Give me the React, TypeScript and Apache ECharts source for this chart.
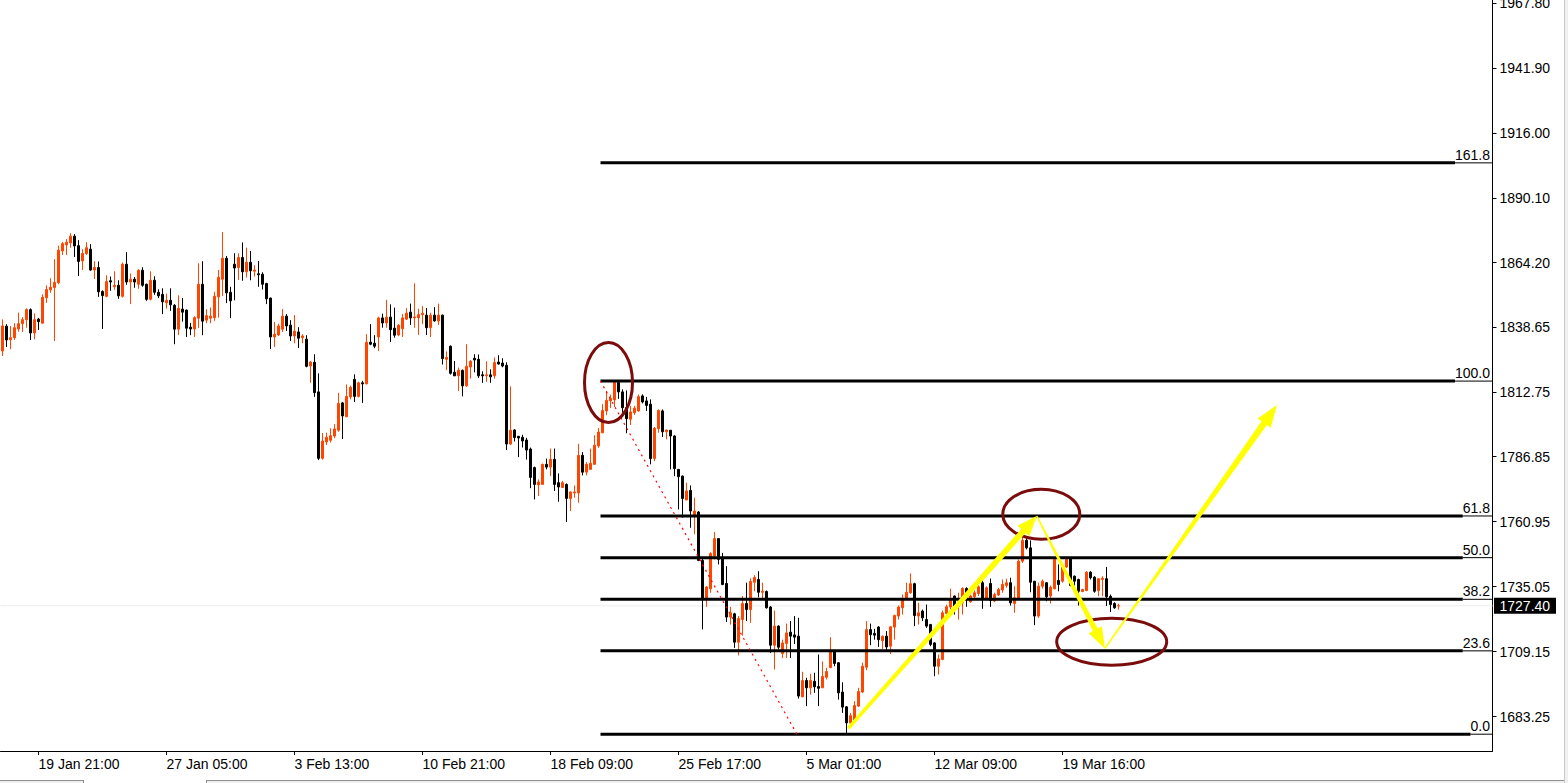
import React, { useEffect, useRef } from "react";
import * as echarts from "echarts";

// XAUUSD H4 candles: open / close / low / high per bar
const opens = [
  1829.0, 1838.9, 1833.5, 1834.3, 1837.8, 1839.9, 1841.5, 1845.5, 1836.2, 1841.7,
  1840.1, 1850.2, 1853.4, 1854.3, 1856.2, 1868.9, 1871.3, 1872.1, 1874.8, 1871.0,
  1864.9, 1867.9, 1869.6, 1861.3, 1862.3, 1852.7, 1850.8, 1857.0, 1854.6, 1855.2,
  1850.8, 1863.6, 1856.5, 1857.6, 1855.6, 1861.2, 1855.6, 1849.6, 1857.2, 1852.4,
  1851.6, 1848.2, 1849.2, 1847.2, 1837.7, 1845.7, 1845.3, 1838.5, 1837.8, 1842.1,
  1855.6, 1841.3, 1842.1, 1842.3, 1850.6, 1857.6, 1866.0, 1852.4, 1863.6, 1862.3,
  1866.3, 1860.6, 1864.4, 1860.8, 1859.8, 1859.6, 1855.9, 1850.1, 1834.6, 1835.4,
  1837.7, 1842.9, 1839.3, 1835.0, 1836.6, 1834.3, 1833.7, 1823.0, 1824.5, 1812.7,
  1786.2, 1792.7, 1793.4, 1795.1, 1797.4, 1808.3, 1802.8, 1810.7, 1817.7, 1810.9,
  1816.3, 1815.9, 1832.5, 1832.1, 1834.6, 1842.2, 1840.2, 1842.5, 1838.1, 1835.4,
  1837.9, 1841.7, 1844.5, 1842.2, 1842.2, 1843.5, 1843.3, 1838.3, 1843.3, 1841.0,
  1843.3, 1825.7, 1830.9, 1820.5, 1819.1, 1821.3, 1815.1, 1822.6, 1826.1, 1825.7,
  1819.5, 1819.1, 1819.5, 1819.1, 1824.6, 1824.2, 1823.3, 1791.9, 1797.5, 1795.0,
  1794.6, 1793.5, 1789.9, 1782.5, 1775.6, 1775.8, 1783.8, 1782.7, 1785.8, 1776.5,
  1774.6, 1775.8, 1770.2, 1772.4, 1772.4, 1787.4, 1780.7, 1781.8, 1783.8, 1791.1,
  1796.4, 1805.1, 1809.1, 1809.5, 1816.4, 1812.7, 1806.4, 1801.8, 1804.4, 1805.1,
  1811.1, 1809.1, 1807.8, 1786.1, 1798.0, 1805.1, 1796.8, 1797.4, 1795.1, 1781.8,
  1779.1, 1769.6, 1773.4, 1763.2, 1764.8, 1745.5, 1730.5, 1734.2, 1747.2, 1754.2,
  1746.5, 1736.3, 1722.9, 1724.2, 1712.9, 1721.9, 1728.3, 1725.9, 1736.8, 1737.9,
  1732.8, 1733.1, 1726.9, 1711.7, 1719.3, 1708.4, 1712.4, 1716.9, 1715.8, 1715.3,
  1691.1, 1697.6, 1694.7, 1697.3, 1695.2, 1694.7, 1698.9, 1702.7, 1709.6, 1704.7,
  1693.0, 1687.1, 1680.7, 1681.4, 1687.4, 1693.0, 1702.9, 1717.9, 1716.4, 1718.9,
  1713.5, 1715.3, 1711.3, 1718.9, 1723.3, 1726.6, 1729.9, 1732.6, 1736.2, 1723.3,
  1725.3, 1721.9, 1719.9, 1712.6, 1703.3, 1706.0, 1724.3, 1726.9, 1731.3, 1727.0,
  1728.6, 1734.3, 1729.0, 1731.0, 1732.3, 1736.6, 1729.9, 1736.3, 1729.3, 1731.7,
  1733.7, 1735.5, 1736.6, 1728.3, 1730.3, 1745.2, 1753.5, 1750.5, 1737.2, 1723.3,
  1735.2, 1736.6, 1731.3, 1734.2, 1737.5, 1737.2, 1742.9, 1746.2, 1739.2, 1737.9,
  1733.1, 1733.5, 1740.8, 1738.8, 1733.5, 1737.9, 1738.2, 1731.2, 1728.3, 1727.3,
];

const closes = [
  1839.0, 1833.4, 1834.3, 1838.3, 1839.9, 1841.5, 1845.5, 1836.2, 1841.5, 1840.7,
  1850.4, 1853.5, 1854.4, 1856.3, 1869.2, 1871.8, 1872.4, 1874.8, 1870.9, 1864.7,
  1867.9, 1870.2, 1861.3, 1862.3, 1852.6, 1851.1, 1856.7, 1856.5, 1855.2, 1851.0,
  1863.6, 1856.5, 1857.6, 1856.5, 1861.2, 1855.2, 1849.6, 1857.2, 1852.4, 1851.0,
  1848.6, 1849.2, 1847.4, 1837.7, 1846.0, 1844.5, 1838.1, 1837.8, 1842.3, 1855.6,
  1840.9, 1843.1, 1842.9, 1850.8, 1858.4, 1866.0, 1852.2, 1849.0, 1862.1, 1866.3,
  1860.6, 1864.4, 1861.0, 1861.3, 1859.4, 1855.6, 1849.8, 1834.6, 1835.7, 1839.0,
  1842.9, 1839.0, 1835.0, 1836.9, 1834.1, 1835.0, 1822.9, 1824.6, 1812.4, 1786.2,
  1793.1, 1794.6, 1795.2, 1797.9, 1808.1, 1803.1, 1810.9, 1814.5, 1810.9, 1816.3,
  1815.9, 1832.5, 1831.7, 1830.9, 1842.2, 1840.2, 1842.5, 1837.5, 1835.3, 1839.3,
  1842.2, 1844.1, 1842.2, 1842.6, 1843.5, 1844.1, 1838.3, 1843.3, 1841.0, 1843.3,
  1826.0, 1826.4, 1820.1, 1819.1, 1821.3, 1815.1, 1822.9, 1824.9, 1825.4, 1819.1,
  1819.1, 1819.5, 1818.7, 1824.4, 1823.8, 1823.0, 1791.9, 1797.4, 1794.5, 1794.3,
  1793.1, 1789.5, 1778.6, 1775.8, 1776.8, 1783.8, 1782.7, 1785.8, 1775.8, 1774.8,
  1776.5, 1770.2, 1772.8, 1772.8, 1787.4, 1780.7, 1783.8, 1784.2, 1791.4, 1796.7,
  1805.3, 1809.3, 1810.1, 1816.4, 1812.7, 1806.4, 1802.0, 1804.7, 1806.2, 1810.8,
  1808.7, 1807.3, 1786.1, 1798.2, 1805.3, 1796.8, 1797.5, 1795.1, 1782.1, 1778.9,
  1770.2, 1773.2, 1765.2, 1765.2, 1745.5, 1730.2, 1734.9, 1748.2, 1754.2, 1745.9,
  1735.9, 1722.9, 1724.6, 1712.9, 1722.3, 1728.3, 1725.9, 1737.1, 1738.7, 1732.8,
  1733.2, 1726.6, 1711.7, 1719.3, 1710.9, 1712.6, 1716.6, 1715.3, 1714.9, 1691.4,
  1697.6, 1694.7, 1697.6, 1695.1, 1694.5, 1699.2, 1701.2, 1709.6, 1704.4, 1692.7,
  1687.0, 1680.7, 1683.6, 1687.6, 1693.2, 1703.3, 1717.9, 1715.9, 1715.7, 1713.9,
  1715.3, 1711.0, 1719.0, 1723.5, 1726.9, 1730.2, 1732.8, 1736.2, 1723.5, 1724.6,
  1722.6, 1719.3, 1712.0, 1703.3, 1706.2, 1724.6, 1727.0, 1729.9, 1727.3, 1729.0,
  1734.3, 1730.3, 1731.3, 1732.6, 1735.0, 1729.9, 1734.6, 1729.5, 1731.9, 1733.9,
  1735.9, 1736.6, 1728.6, 1730.6, 1745.2, 1753.5, 1750.5, 1736.8, 1723.3, 1735.2,
  1737.2, 1731.0, 1734.8, 1745.9, 1735.9, 1742.9, 1745.9, 1735.5, 1737.2, 1733.2,
  1733.9, 1740.8, 1738.6, 1733.2, 1738.2, 1738.4, 1731.0, 1727.9, 1726.6, 1727.4,
];

const lows = [
  1827.0, 1830.6, 1829.7, 1833.4, 1836.7, 1836.6, 1838.3, 1833.4, 1833.7, 1837.4,
  1839.9, 1848.2, 1852.2, 1833.0, 1855.6, 1867.3, 1867.3, 1870.2, 1866.5, 1858.9,
  1861.3, 1867.3, 1861.0, 1857.7, 1850.6, 1837.8, 1850.4, 1853.0, 1853.4, 1849.8,
  1850.3, 1855.4, 1847.7, 1854.2, 1853.8, 1854.6, 1849.0, 1849.2, 1851.4, 1850.1,
  1843.7, 1845.9, 1845.0, 1831.7, 1835.4, 1840.7, 1834.6, 1835.3, 1834.6, 1838.2,
  1835.3, 1840.1, 1840.1, 1841.0, 1842.3, 1851.0, 1848.1, 1842.1, 1849.2, 1857.4,
  1857.0, 1858.3, 1857.2, 1858.7, 1854.6, 1853.5, 1847.7, 1829.8, 1830.6, 1835.0,
  1836.6, 1837.0, 1833.0, 1832.1, 1830.2, 1832.1, 1822.5, 1816.3, 1810.7, 1785.5,
  1785.7, 1791.5, 1792.5, 1794.2, 1796.8, 1793.9, 1802.6, 1809.7, 1808.7, 1810.5,
  1808.3, 1815.7, 1831.3, 1830.1, 1829.0, 1838.3, 1838.3, 1832.6, 1834.3, 1834.9,
  1834.6, 1841.4, 1839.4, 1838.3, 1835.4, 1839.7, 1835.4, 1834.6, 1840.7, 1839.4,
  1823.6, 1821.4, 1819.6, 1819.0, 1813.1, 1810.9, 1814.7, 1818.0, 1820.5, 1818.3,
  1816.3, 1816.7, 1816.3, 1818.0, 1823.6, 1822.5, 1789.5, 1791.5, 1792.9, 1786.7,
  1790.5, 1785.7, 1774.3, 1769.8, 1771.2, 1775.7, 1781.8, 1779.1, 1773.2, 1768.9,
  1774.5, 1760.8, 1765.2, 1770.5, 1768.5, 1779.4, 1779.4, 1781.7, 1783.8, 1790.4,
  1796.2, 1803.4, 1806.3, 1806.7, 1809.9, 1804.4, 1796.2, 1799.5, 1803.5, 1804.8,
  1808.1, 1805.1, 1783.8, 1785.1, 1796.4, 1794.7, 1793.8, 1781.8, 1779.1, 1765.8,
  1762.5, 1769.5, 1758.5, 1755.9, 1745.2, 1718.0, 1727.0, 1732.6, 1745.9, 1743.9,
  1735.6, 1720.9, 1719.9, 1710.6, 1707.6, 1715.5, 1721.3, 1720.6, 1733.2, 1730.8,
  1730.3, 1726.3, 1708.6, 1702.0, 1710.0, 1706.6, 1706.6, 1706.6, 1712.2, 1690.4,
  1691.0, 1687.4, 1692.0, 1692.7, 1687.4, 1694.7, 1698.0, 1702.7, 1703.3, 1690.0,
  1684.7, 1676.7, 1680.4, 1680.7, 1687.1, 1692.7, 1701.7, 1711.7, 1713.9, 1711.0,
  1710.2, 1709.7, 1708.2, 1713.9, 1721.9, 1723.9, 1729.7, 1732.2, 1719.3, 1719.9,
  1721.3, 1718.6, 1711.3, 1699.3, 1700.0, 1705.7, 1723.9, 1725.9, 1723.9, 1721.9,
  1723.9, 1727.0, 1728.6, 1729.9, 1731.3, 1726.2, 1729.5, 1727.0, 1728.9, 1731.3,
  1732.6, 1734.6, 1727.5, 1724.6, 1730.2, 1744.5, 1749.9, 1732.8, 1719.7, 1722.6,
  1734.2, 1729.2, 1728.3, 1733.9, 1733.2, 1736.6, 1742.5, 1735.2, 1735.2, 1727.5,
  1732.8, 1733.2, 1737.9, 1732.6, 1731.2, 1731.2, 1727.3, 1724.9, 1726.2, 1725.9,
];

const highs = [
  1841.6, 1839.7, 1839.0, 1840.1, 1844.3, 1842.5, 1846.0, 1846.0, 1844.0, 1842.2,
  1851.6, 1855.2, 1858.0, 1865.6, 1871.0, 1872.5, 1873.6, 1876.0, 1875.6, 1873.2,
  1869.6, 1872.4, 1871.6, 1864.8, 1864.7, 1853.2, 1859.2, 1858.7, 1860.8, 1857.2,
  1864.3, 1868.4, 1859.9, 1858.5, 1861.6, 1862.4, 1855.9, 1860.8, 1858.8, 1853.6,
  1854.0, 1851.9, 1854.0, 1847.7, 1851.2, 1850.1, 1845.5, 1840.2, 1842.9, 1864.0,
  1864.8, 1845.7, 1846.3, 1852.6, 1861.3, 1876.4, 1866.9, 1854.6, 1868.0, 1867.9,
  1872.3, 1870.2, 1868.9, 1863.2, 1864.9, 1860.4, 1856.2, 1850.3, 1840.6, 1839.9,
  1845.7, 1843.7, 1841.3, 1843.3, 1838.5, 1835.7, 1835.3, 1825.0, 1827.7, 1820.1,
  1796.3, 1796.4, 1798.2, 1799.8, 1812.3, 1808.7, 1815.7, 1815.2, 1819.7, 1816.8,
  1817.1, 1835.7, 1839.7, 1835.3, 1842.7, 1843.9, 1849.4, 1847.6, 1846.3, 1839.7,
  1843.7, 1846.1, 1847.9, 1856.0, 1845.9, 1846.9, 1846.1, 1844.3, 1846.5, 1847.9,
  1843.5, 1828.8, 1831.2, 1825.0, 1822.4, 1821.6, 1831.7, 1825.4, 1827.7, 1827.6,
  1820.9, 1824.9, 1821.7, 1826.4, 1827.3, 1826.1, 1824.5, 1814.9, 1797.8, 1795.1,
  1795.6, 1794.4, 1790.5, 1782.9, 1777.8, 1784.1, 1786.1, 1790.1, 1790.1, 1780.2,
  1777.2, 1776.2, 1773.0, 1775.4, 1792.0, 1788.7, 1784.7, 1790.1, 1795.4, 1798.3,
  1807.8, 1813.1, 1811.6, 1816.7, 1816.8, 1813.7, 1813.3, 1807.1, 1807.1, 1811.7,
  1811.7, 1810.7, 1809.7, 1798.7, 1805.7, 1805.7, 1797.6, 1797.5, 1795.4, 1781.9,
  1779.4, 1776.5, 1775.4, 1770.5, 1765.2, 1746.2, 1735.3, 1748.8, 1756.8, 1754.3,
  1748.5, 1743.2, 1727.0, 1724.6, 1723.3, 1731.3, 1736.6, 1738.3, 1739.6, 1741.2,
  1736.6, 1733.5, 1727.3, 1725.5, 1719.6, 1713.9, 1720.3, 1721.3, 1723.3, 1722.6,
  1701.1, 1698.7, 1700.3, 1700.7, 1708.0, 1705.2, 1702.7, 1714.9, 1709.6, 1704.9,
  1696.9, 1687.4, 1684.7, 1689.4, 1694.7, 1704.7, 1721.3, 1720.3, 1718.2, 1719.3,
  1715.5, 1717.3, 1719.3, 1723.9, 1727.5, 1731.9, 1736.6, 1740.3, 1736.6, 1728.6,
  1725.9, 1727.9, 1720.2, 1712.9, 1708.0, 1725.5, 1727.9, 1734.2, 1731.5, 1732.6,
  1734.8, 1734.8, 1731.9, 1733.5, 1736.6, 1737.9, 1735.2, 1738.3, 1732.6, 1734.6,
  1737.9, 1738.2, 1738.6, 1735.2, 1745.9, 1755.2, 1755.2, 1753.5, 1737.2, 1736.6,
  1737.9, 1736.8, 1735.5, 1746.2, 1743.9, 1742.9, 1747.0, 1746.5, 1739.5, 1738.2,
  1734.2, 1741.2, 1741.2, 1739.2, 1738.4, 1739.2, 1742.9, 1731.9, 1728.8, 1728.2,
];

// Bar slots on the time axis (traded bars plus the empty shift area on the right)
const SLOT_COUNT = 373;
const slots = Array.from({ length: SLOT_COUNT }, (_, i) => String(i));

// Time labels and the bars they sit on
const timeTickBars = [9, 41, 73, 105, 137, 169, 201, 233, 265];
const timeTickLabels = [
  "19 Jan 21:00", "27 Jan 05:00", "3 Feb 13:00", "10 Feb 21:00", "18 Feb 09:00",
  "25 Feb 17:00", "5 Mar 01:00", "12 Mar 09:00", "19 Mar 16:00",
];

// Price scale
const priceMin = 1669.5;
const priceMax = 1968.96;
const priceTicks = [
  1683.25, 1709.15, 1735.05, 1760.95, 1786.85, 1812.75,
  1838.65, 1864.2, 1890.1, 1916.0, 1941.9, 1967.8,
];
const lastPrice = 1727.4;

// Fibonacci retracement: swing high / low and the bars they are anchored to
const fibHigh = 1817.0;
const fibLow = 1676.2;
const fibStartBar = 149.5;
const fibLowBar = 198.6;
const fibLevels = [0, 23.6, 38.2, 50, 61.8, 100, 161.8];

// Hand-drawn projection: arrow legs (bar, price) and highlighted zones
const arrowFrom = [[211.45, 1678.5], [258.55, 1763.2], [275.6, 1710.4]];
const arrowTo = [[258.55, 1763.2], [275.6, 1710.4], [318.6, 1807.45]];
const zoneCentres = [[151.5, 1816.4], [259.7, 1763.9], [277.3, 1713.05]];

// Drawing styles
const FONT = '"Liberation Sans", Arial, sans-serif';
const BULL = "#ff4500";
const BEAR = "#000000";
const arrowStyle = [
  { tail: 3.5, neck: 6, headWidth: 16, headLength: 20 },
  { tail: 1.5, neck: 5.5, headWidth: 15, headLength: 21 },
  { tail: 1.5, neck: 6.5, headWidth: 16, headLength: 22 },
];
const zoneRadii = [[24, 40], [38.5, 25], [55, 23.5]];

const fibPrice = (level: number) => fibLow + ((fibHigh - fibLow) * level) / 100;

function textWidth(text: string, size: number): number {
  let w = 0;
  for (const ch of text) w += ch === "." ? 0.278 * size : 0.556 * size;
  return w;
}

// Pixel position of a possibly fractional bar position at a given price
function pointAt(api: any, bar: number, price: number): number[] {
  const base = Math.floor(bar);
  const a = api.coord([base, price]);
  const b = api.coord([base + 1, price]);
  const t = bar - base;
  return [a[0] + (b[0] - a[0]) * t, a[1]];
}

function buildOption(): any {
  const tickText = new Map<number, string>();
  timeTickBars.forEach((b, i) => tickText.set(b, timeTickLabels[i]));
  const lastBar = opens.length - 1;

  const candles = opens.map((o, i) => [o, closes[i], lows[i], highs[i]]);

  return {
    animation: false,
    backgroundColor: "#ffffff",
    grid: {
      left: 0.5,
      top: 0,
      width: 1492,
      height: 751,
      containLabel: false,
      outerBoundsMode: "none",
    },
    xAxis: {
      type: "category",
      data: slots,
      boundaryGap: true,
      axisLine: { show: true, lineStyle: { color: "#000", width: 1 } },
      axisTick: {
        show: true,
        alignWithLabel: true,
        length: 4,
        interval: (i: number) => tickText.has(i),
        lineStyle: { color: "#000" },
      },
      axisLabel: {
        interval: (i: number) => tickText.has(i),
        formatter: (v: string) => tickText.get(Number(v)) ?? "",
        align: "left",
        margin: 6,
        color: "#000",
        fontFamily: FONT,
        fontSize: 14,
      },
      splitLine: { show: false },
    },
    yAxis: {
      type: "value",
      position: "right",
      min: priceMin,
      max: priceMax,
      axisLine: { show: true, onZero: false, lineStyle: { color: "#000", width: 1 } },
      axisTick: { show: true, length: 4, customValues: priceTicks, lineStyle: { color: "#000" } },
      axisLabel: {
        customValues: priceTicks,
        formatter: (v: number) => v.toFixed(2),
        margin: 7,
        color: "#000",
        fontFamily: FONT,
        fontSize: 14,
      },
      splitLine: { show: false },
    },
    graphic: [
      { type: "rect", silent: true, shape: { x: 1564, y: 0, width: 4, height: 783 }, style: { fill: "#f0f0f0" } },
      { type: "line", silent: true, shape: { x1: 1564.5, y1: 0, x2: 1564.5, y2: 783 }, style: { stroke: "#c8c8c8", lineWidth: 1 } },
      { type: "rect", silent: true, shape: { x: 0, y: 780, width: 1564, height: 3 }, style: { fill: "#f0f0f0" } },
      { type: "rect", silent: true, shape: { x: 83, y: 780, width: 124, height: 3 }, style: { fill: "#ffffff" } },
      { type: "line", silent: true, shape: { x1: 0, y1: 780.5, x2: 83, y2: 780.5 }, style: { stroke: "#909090", lineWidth: 1 } },
      { type: "line", silent: true, shape: { x1: 207, y1: 780.5, x2: 1564, y2: 780.5 }, style: { stroke: "#909090", lineWidth: 1 } },
      { type: "line", silent: true, shape: { x1: 83.5, y1: 780, x2: 83.5, y2: 783 }, style: { stroke: "#909090", lineWidth: 1 } },
      { type: "line", silent: true, shape: { x1: 206.5, y1: 780, x2: 206.5, y2: 783 }, style: { stroke: "#909090", lineWidth: 1 } },
    ],
    series: [
      // faint bid line at the last price
      {
        type: "custom",
        z: 1,
        silent: true,
        data: [[lastBar, lastPrice]],
        renderItem: (params: any, api: any) => {
          const p = api.coord([lastBar, lastPrice]);
          const cs = params.coordSys;
          return {
            type: "line",
            shape: { x1: cs.x, y1: p[1], x2: cs.x + cs.width, y2: p[1] },
            style: { stroke: "#ececec", lineWidth: 1 },
          };
        },
      },
      {
        type: "candlestick",
        z: 2,
        silent: true,
        barWidth: 2,
        data: candles,
        itemStyle: {
          color: BULL,
          color0: BEAR,
          borderColor: BULL,
          borderColor0: BEAR,
          borderColorDoji: BEAR,
          borderWidth: 1,
        },
      },
      // Fibonacci levels
      {
        type: "custom",
        z: 3,
        silent: true,
        data: fibLevels.map((l) => [Math.round(fibStartBar), fibPrice(l)]),
        renderItem: (params: any, api: any) => {
          const level = fibLevels[params.dataIndex];
          const p = pointAt(api, fibStartBar, fibPrice(level));
          const cs = params.coordSys;
          const right = cs.x + cs.width;
          const label = level.toFixed(1);
          const textRight = right - 2.5;
          const thickEnd = textRight - textWidth(label, 14);
          const y = p[1];
          return {
            type: "group",
            children: [
              { type: "line", shape: { x1: p[0], y1: y, x2: thickEnd, y2: y }, style: { stroke: "#000", lineWidth: 3 } },
              { type: "line", shape: { x1: thickEnd, y1: y, x2: right, y2: y }, style: { stroke: "#000", lineWidth: 1 } },
              {
                type: "text",
                x: textRight,
                y: y - 8,
                style: { text: label, fill: "#000", fontFamily: FONT, fontSize: 14, align: "right", verticalAlign: "middle" },
              },
            ],
          };
        },
      },
      // Fibonacci swing trend line
      {
        type: "custom",
        z: 3,
        silent: true,
        data: [[Math.round(fibStartBar), fibHigh]],
        renderItem: (_params: any, api: any) => {
          const a = pointAt(api, fibStartBar, fibHigh);
          const b = pointAt(api, fibLowBar, fibLow);
          return {
            type: "line",
            shape: { x1: a[0], y1: a[1], x2: b[0], y2: b[1] },
            style: { stroke: "#ff0000", lineWidth: 1.2, lineDash: [2, 4] },
          };
        },
      },
      // highlighted zones
      {
        type: "custom",
        z: 4,
        silent: true,
        data: zoneCentres.map((c) => [Math.round(c[0]), c[1]]),
        renderItem: (params: any, api: any) => {
          const c = zoneCentres[params.dataIndex];
          const r = zoneRadii[params.dataIndex];
          const p = pointAt(api, c[0], c[1]);
          return {
            type: "ellipse",
            shape: { cx: p[0], cy: p[1], rx: r[0], ry: r[1] },
            style: { fill: "none", stroke: "#7b0c0c", lineWidth: 3 },
          };
        },
      },
      // projection arrows
      {
        type: "custom",
        z: 5,
        silent: true,
        data: arrowFrom.map((f) => [Math.round(f[0]), f[1]]),
        renderItem: (params: any, api: any) => {
          const i = params.dataIndex;
          const st = arrowStyle[i];
          const s = pointAt(api, arrowFrom[i][0], arrowFrom[i][1]);
          const e = pointAt(api, arrowTo[i][0], arrowTo[i][1]);
          const dx = e[0] - s[0];
          const dy = e[1] - s[1];
          const len = Math.hypot(dx, dy) || 1;
          const ux = dx / len;
          const uy = dy / len;
          const nx = -uy;
          const ny = ux;
          const bx = e[0] - ux * st.headLength;
          const by = e[1] - uy * st.headLength;
          const points = [
            [s[0] + (nx * st.tail) / 2, s[1] + (ny * st.tail) / 2],
            [bx + (nx * st.neck) / 2, by + (ny * st.neck) / 2],
            [bx + (nx * st.headWidth) / 2, by + (ny * st.headWidth) / 2],
            [e[0], e[1]],
            [bx - (nx * st.headWidth) / 2, by - (ny * st.headWidth) / 2],
            [bx - (nx * st.neck) / 2, by - (ny * st.neck) / 2],
            [s[0] - (nx * st.tail) / 2, s[1] - (ny * st.tail) / 2],
          ];
          return { type: "polygon", shape: { points }, style: { fill: "#ffff00" } };
        },
      },
      // last price tag on the price scale
      {
        type: "custom",
        z: 6,
        silent: true,
        data: [[lastBar, lastPrice]],
        renderItem: (params: any, api: any) => {
          const p = api.coord([lastBar, lastPrice]);
          const cs = params.coordSys;
          const x = cs.x + cs.width + 1.5;
          return {
            type: "group",
            children: [
              { type: "rect", shape: { x, y: p[1] - 8, width: 62, height: 16 }, style: { fill: "#000" } },
              {
                type: "text",
                x: x + 5.5,
                y: p[1],
                style: { text: lastPrice.toFixed(2), fill: "#fff", fontFamily: FONT, fontSize: 14, align: "left", verticalAlign: "middle" },
              },
            ],
          };
        },
      },
    ],
  };
}

export default function App() {
  const ref = useRef<HTMLDivElement>(null);
  useEffect(() => {
    if (!ref.current) return;
    const chart = echarts.init(ref.current, undefined, { renderer: "svg" });
    chart.setOption(buildOption());
    return () => chart.dispose();
  }, []);
  return (
    <div
      ref={ref}
      style={{ position: "fixed", left: 0, top: 0, width: 1568, height: 783, background: "#ffffff" }}
    />
  );
}
